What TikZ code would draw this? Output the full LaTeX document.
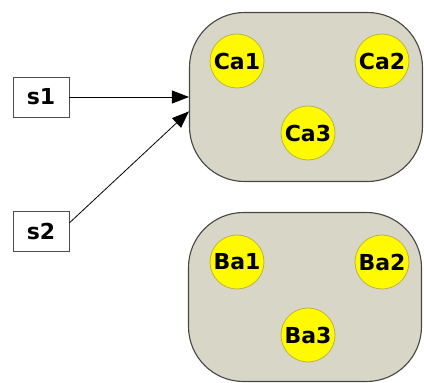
\documentclass[tikz,border=0pt]{standalone}
\usepackage{fontspec}
\setmainfont{DejaVu Sans}
\usepackage{xcolor}
\usetikzlibrary{arrows.meta, positioning}

\definecolor{groupfill}{RGB}{216,214,198}
\definecolor{groupline}{RGB}{70,70,66}
\definecolor{ballfill}{RGB}{255,250,0}
\definecolor{ballline}{RGB}{190,180,60}

\begin{document}
\begin{tikzpicture}[
      x=1pt, y=-1pt,
      every node/.style={font=\fontsize{22}{26}\selectfont\bfseries, inner sep=0pt},
      group/.style={draw=groupline, fill=groupfill, line width=1.1pt, rounded corners=55pt,
                    minimum width=233pt, minimum height=169pt},
      ball/.style={draw=ballline, fill=ballfill, circle, line width=0.8pt, minimum size=54pt},
      src/.style={draw=black!70, line width=0.9pt, minimum width=56pt, minimum height=40pt},
      feed/.style={line width=0.8pt, -{Triangle[length=17pt, width=13pt]}}
    ]
      \useasboundingbox (0,0) rectangle (424,383);
      % groups
      \node[group] (C) at (306,97) {};
      \node[group] (B) at (305,297) {};
      \node[ball] (Ca1) at (237,61) {Ca1};
      \node[ball] (Ca2) at (382,61) {Ca2};
      \node[ball] (Ca3) at (308,133) {Ca3};
      \node[ball] (Ba1) at (237,262) {Ba1};
      \node[ball] (Ba2) at (382,262) {Ba2};
      \node[ball] (Ba3) at (308,335) {Ba3};
      % sources
      \node[src] (s1) at (41,97) {s1};
      \node[src] (s2) at (41,231) {s2};
      \draw[feed] (s1) -- (C.west);
      \draw[feed] (s2.16) -- (C.187);
  \end{tikzpicture}
\end{document}
